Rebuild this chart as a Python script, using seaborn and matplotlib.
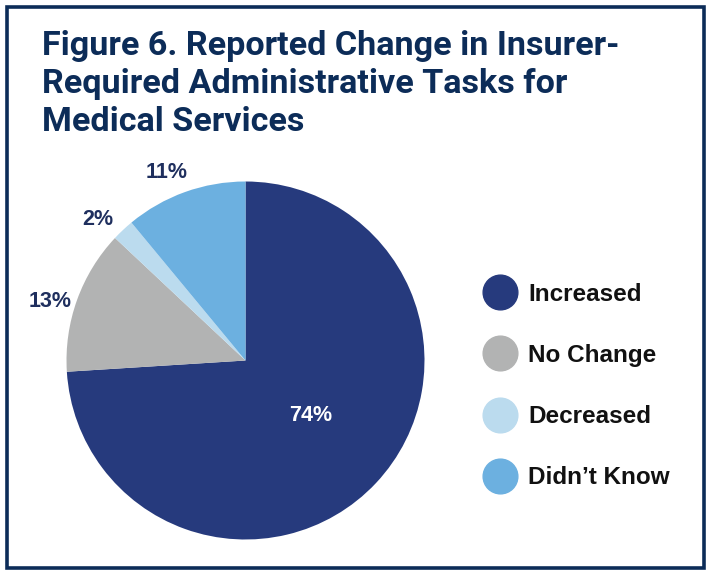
import numpy as np
import matplotlib
matplotlib.use('Agg')
import matplotlib.pyplot as plt
import seaborn as sns
from matplotlib.lines import Line2D
from matplotlib.patches import Rectangle

# datos
categories = ['Increased', 'No Change', 'Decreased', "Didn\u2019t Know"]
values = [74, 13, 2, 11]
colors = ['#263a7d', '#b2b3b3', '#bbdbee', '#6cb0e0']
title = 'Figure 6. Reported Change in Insurer-\nRequired Administrative Tasks for\nMedical Services'

sns.set_style('white')
plt.rcParams['font.family'] = ['Liberation Sans', 'DejaVu Sans']

navy = '#0c2c58'
label_navy = '#1f2f5e'

fig = plt.figure(figsize=(7.12, 5.71), dpi=100)
W, H = 712, 571

# marco
fig.patches.append(Rectangle((6.5 / W, 1 - 567.5 / H), 697 / W, 561 / H,
                             transform=fig.transFigure, fill=False,
                             edgecolor=navy, linewidth=2.6))

fig.text(42 / W, 1 - 30 / H, title, fontsize=24.6, fontweight='bold',
         family=['Roboto', 'DejaVu Sans'],
         color=navy, ha='left', va='top', linespacing=1.24)

# pastel
r = 179
cx, cy = 245.5, 360.5
ax = fig.add_axes([(cx - r) / W, 1 - (cy + r) / H, 2 * r / W, 2 * r / H])
wedges, texts, autotexts = ax.pie(values, colors=sns.color_palette(colors),
                                  startangle=90, counterclock=False,
                                  wedgeprops=dict(linewidth=0),
                                  autopct=lambda p: f'{p:.0f}%', pctdistance=0.48,
                                  textprops=dict(fontsize=15.5, fontweight='bold'))
ax.set_xlim(-1, 1)
ax.set_ylim(-1, 1)
ax.set_aspect('equal')

# etiquetas: girar un poco y sacar las pequeñas fuera del pastel
rot = np.deg2rad(3)
for i, t in enumerate(autotexts):
    x, y = t.get_position()
    k = 1.0 if i == 0 else 1.14 / 0.48
    x, y = x * k, y * k
    t.set_position((x * np.cos(rot) - y * np.sin(rot), x * np.sin(rot) + y * np.cos(rot)))
    t.set_color('white' if i == 0 else label_navy)

handles = [Line2D([], [], marker='o', linestyle='none', markersize=25,
                  markerfacecolor=c, markeredgecolor=c) for c in colors]
fig.legend(handles, categories, loc='center left',
           bbox_to_anchor=(483 / W, 1 - 386 / H), frameon=False,
           borderpad=0, borderaxespad=0, handlelength=1.4, handletextpad=0.45,
           labelspacing=1.57,
           prop=dict(size=17.5, weight='bold'),
           labelcolor='#111111')

fig.savefig('out.png', dpi=100)
